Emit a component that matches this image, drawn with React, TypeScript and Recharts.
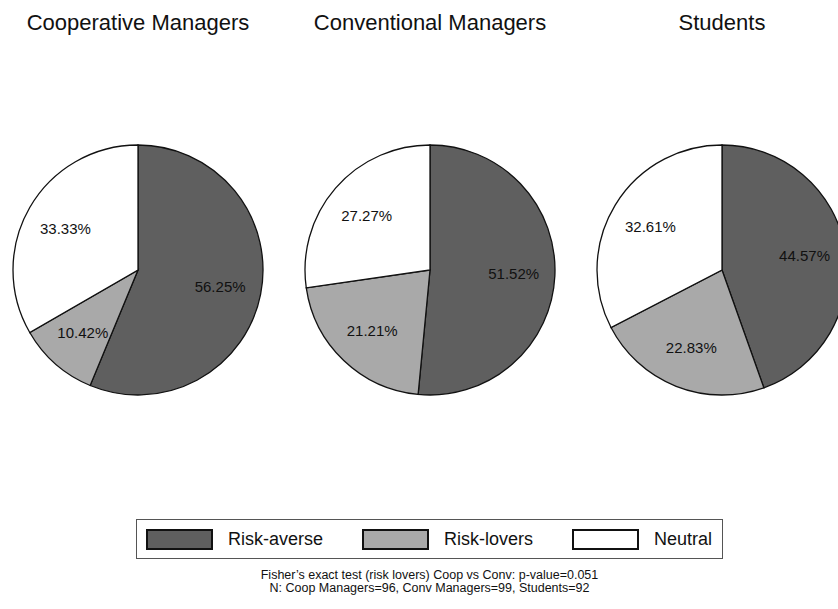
import React from 'react';
import { PieChart, Pie, Cell, Legend } from 'recharts';

const categories = ['Risk-averse', 'Risk-lovers', 'Neutral'];
const groups = ['Cooperative Managers', 'Conventional Managers', 'Students'];
const coopCounts = [54, 10, 32];
const convCounts = [51, 21, 27];
const studentCounts = [41, 21, 30];
const colors = ['#5f5f5f', '#a9a9a9', '#ffffff'];
const footnotes = [
  "Fisher\u2019s exact test (risk lovers) Coop vs Conv: p-value=0.051",
  'N: Coop Managers=96, Conv Managers=99, Students=92',
];

const W = 838;
const H = 609;
const FONT = '"Liberation Sans", Arial, Helvetica, sans-serif';
const centersX = [138, 430, 722];
const CY = 270;
const R = 125;

const seriesCounts = [coopCounts, convCounts, studentCounts];
const pieData = seriesCounts.map((counts) =>
  counts.map((v, i) => ({ name: categories[i], value: v }))
);

const RAD = Math.PI / 180;
const renderLabel = (p: any) => {
  const rr = p.outerRadius * 0.67;
  const x = p.cx + rr * Math.cos(-p.midAngle * RAD);
  const y = p.cy + rr * Math.sin(-p.midAngle * RAD);
  return (
    <text
      x={x}
      y={y}
      textAnchor="middle"
      dominantBaseline="central"
      fontSize={15}
      fontFamily={FONT}
      fill="#111"
    >
      {(p.percent * 100).toFixed(2)}%
    </text>
  );
};

const LegendBox = () => (
  <div
    style={{
      width: 587,
      height: 40,
      boxSizing: 'border-box',
      border: '1px solid #555',
      display: 'flex',
      alignItems: 'center',
      paddingLeft: 9,
      fontFamily: FONT,
      fontSize: 18,
      color: '#111',
      whiteSpace: 'nowrap',
    }}
  >
    {categories.map((c, i) => (
      <div key={c} style={{ display: 'flex', alignItems: 'center', marginRight: 39, flexShrink: 0 }}>
        <div
          style={{
            width: 67,
            height: 21,
            flexShrink: 0,
            boxSizing: 'border-box',
            background: colors[i],
            border: '2px solid #111',
            marginRight: 15,
          }}
        />
        <span style={{ whiteSpace: 'nowrap' }}>{c}</span>
      </div>
    ))}
  </div>
);

export default function App() {
  return (
    <div
      style={{
        position: 'absolute',
        left: 0,
        top: 0,
        width: W,
        height: H,
        background: '#fff',
        overflow: 'hidden',
        fontFamily: FONT,
      }}
    >
      {groups.map((g, i) => (
        <div
          key={g}
          style={{
            position: 'absolute',
            left: centersX[i] - 146,
            width: 292,
            top: 10,
            textAlign: 'center',
            fontSize: 22,
            color: '#111',
            lineHeight: '26px',
          }}
        >
          {g}
        </div>
      ))}
      <div style={{ position: 'absolute', left: 0, top: 0 }}>
        <PieChart width={W} height={H} margin={{ top: 0, right: 0, bottom: 0, left: 0 }}>
          {pieData.map((d, k) => (
            <Pie
              key={groups[k]}
              data={d}
              dataKey="value"
              nameKey="name"
              cx={centersX[k]}
              cy={CY}
              outerRadius={R}
              startAngle={90}
              endAngle={-270}
              stroke="#111"
              strokeWidth={1.3}
              label={renderLabel}
              labelLine={false}
              isAnimationActive={false}
            >
              {d.map((e, i) => (
                <Cell key={e.name} fill={colors[i]} />
              ))}
            </Pie>
          ))}
          <Legend
            content={() => <LegendBox />}
            wrapperStyle={{ position: 'absolute', left: 136, top: 519, width: 587, height: 40, bottom: 'auto' }}
          />
        </PieChart>
      </div>
      <div
        style={{
          position: 'absolute',
          left: 136,
          width: 587,
          top: 569,
          textAlign: 'center',
          fontSize: 12.5,
          lineHeight: '13px',
          color: '#111',
        }}
      >
        {footnotes.map((f) => (
          <div key={f}>{f}</div>
        ))}
      </div>
    </div>
  );
}
